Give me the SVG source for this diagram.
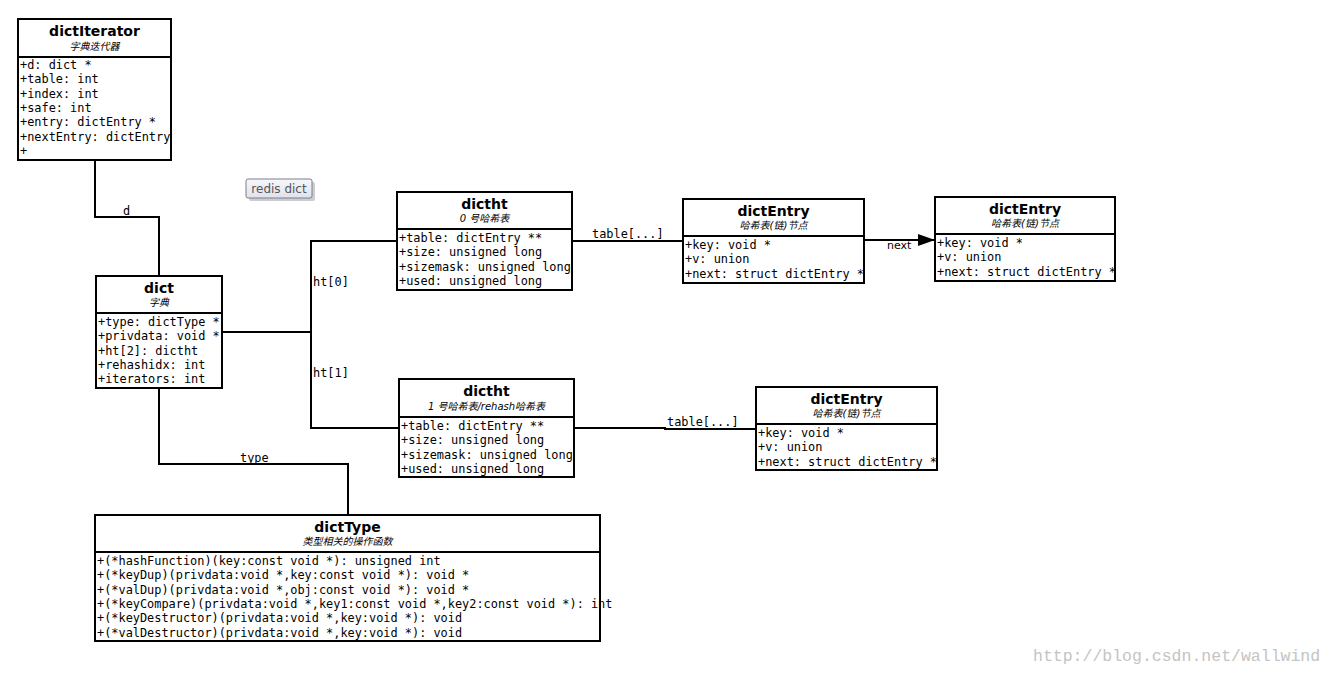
<svg xmlns="http://www.w3.org/2000/svg" width="1335" height="674" viewBox="0 0 1335 674">
<defs>
<style>
.box{fill:#fff;stroke:#000;stroke-width:2}
.div{stroke:#000;stroke-width:2}
.title{font-family:"DejaVu Sans",sans-serif;font-weight:bold;font-size:14px;text-anchor:middle;fill:#000}
.sub{font-family:"DejaVu Sans","Noto Sans CJK SC",sans-serif;font-style:italic;font-size:10px;text-anchor:middle;fill:#000}
.attr{font-family:"DejaVu Sans Mono",monospace;font-size:11.9px;fill:#000}
.lbl{font-family:"DejaVu Sans Mono",monospace;font-size:11.9px;fill:#000}
.conn{fill:none;stroke:#000;stroke-width:2}
</style>
<linearGradient id="ng" x1="0" y1="0" x2="0" y2="1">
<stop offset="0" stop-color="#f7f8fc"/>
<stop offset="1" stop-color="#dfe1ec"/>
</linearGradient>
<marker id="arr" viewBox="0 0 17 12" refX="17" refY="6" markerWidth="17" markerHeight="12" markerUnits="userSpaceOnUse" orient="auto">
<path d="M0,0 L17,6 L0,12 Z" fill="#000"/>
</marker>
</defs>
<rect width="1335" height="674" fill="#fff"/>

<g id="connectors">
<polyline class="conn" points="95,160 95,217 159,217 159,276"/>
<text class="lbl" x="123" y="215">d</text>
<polyline class="conn" points="222,332 311,332"/>
<polyline class="conn" points="397,241 311,241 311,428 399,428"/>
<text class="lbl" x="313" y="286">ht[0]</text>
<text class="lbl" x="313" y="377">ht[1]</text>
<line class="conn" x1="572" y1="241" x2="683" y2="241"/>
<text class="lbl" x="592" y="238">table[...]</text>
<line class="conn" x1="864" y1="240" x2="935" y2="240" marker-end="url(#arr)"/>
<text x="887" y="249" font-family="DejaVu Sans,sans-serif" font-size="11px" fill="#000">next</text>
<polyline class="conn" points="574,428 665,428 665,429 756,429"/>
<text class="lbl" x="667" y="426">table[...]</text>
<polyline class="conn" points="159,388 159,464 348,464 348,515"/>
<text class="lbl" x="240" y="462">type</text>
</g>

<g id="dictIterator">
<rect class="box" x="18" y="19" width="153" height="141"/>
<line class="div" x1="18" y1="57" x2="171" y2="57"/>
<text class="title" x="94.5" y="36">dictIterator</text>
<text class="sub" x="94.5" y="50">字典迭代器</text>
<text class="attr" x="20" y="69">+d: dict *</text>
<text class="attr" x="20" y="83.3">+table: int</text>
<text class="attr" x="20" y="97.6">+index: int</text>
<text class="attr" x="20" y="111.9">+safe: int</text>
<text class="attr" x="20" y="126.2">+entry: dictEntry *</text>
<text class="attr" x="20" y="140.5">+nextEntry: dictEntry</text>
<text class="attr" x="20" y="154.8">+</text>
</g>

<g id="note-redis-dict">
<rect x="249" y="182" width="66" height="19" rx="2" fill="#9a9aa8" opacity="0.5"/>
<rect x="246" y="179" width="66" height="19" rx="2" fill="url(#ng)" stroke="#7d7f8c" stroke-width="1"/>
<text x="279" y="193" text-anchor="middle" font-family="DejaVu Sans,sans-serif" font-size="12px" fill="#555">redis dict</text>
</g>

<g id="dict">
<rect class="box" x="96" y="276" width="126" height="112"/>
<line class="div" x1="96" y1="313" x2="222" y2="313"/>
<text class="title" x="159" y="293">dict</text>
<text class="sub" x="159" y="306">字典</text>
<text class="attr" x="98" y="326">+type: dictType *</text>
<text class="attr" x="98" y="340.3">+privdata: void *</text>
<text class="attr" x="98" y="354.6">+ht[2]: dictht</text>
<text class="attr" x="98" y="368.9">+rehashidx: int</text>
<text class="attr" x="98" y="383.2">+iterators: int</text>
</g>

<g id="dictht0">
<rect class="box" x="397" y="192" width="175" height="98"/>
<line class="div" x1="397" y1="229" x2="572" y2="229"/>
<text class="title" x="484.5" y="209">dictht</text>
<text class="sub" x="484.5" y="222">0 号哈希表</text>
<text class="attr" x="399" y="242">+table: dictEntry **</text>
<text class="attr" x="399" y="256.3">+size: unsigned long</text>
<text class="attr" x="399" y="270.6">+sizemask: unsigned long</text>
<text class="attr" x="399" y="284.9">+used: unsigned long</text>
</g>

<g id="dictht1">
<rect class="box" x="399" y="379" width="175" height="98"/>
<line class="div" x1="399" y1="417" x2="574" y2="417"/>
<text class="title" x="486.5" y="396">dictht</text>
<text class="sub" x="486.5" y="410">1 号哈希表/rehash哈希表</text>
<text class="attr" x="401" y="430">+table: dictEntry **</text>
<text class="attr" x="401" y="444.3">+size: unsigned long</text>
<text class="attr" x="401" y="458.6">+sizemask: unsigned long</text>
<text class="attr" x="401" y="472.9">+used: unsigned long</text>
</g>

<g id="dictEntry1">
<rect class="box" x="683" y="199" width="181" height="84"/>
<line class="div" x1="683" y1="236" x2="864" y2="236"/>
<text class="title" x="773.5" y="216">dictEntry</text>
<text class="sub" x="773.5" y="229">哈希表(链)节点</text>
<text class="attr" x="685" y="249">+key: void *</text>
<text class="attr" x="685" y="263.3">+v: union</text>
<text class="attr" x="685" y="277.6">+next: struct dictEntry *</text>
</g>

<g id="dictEntry2">
<rect class="box" x="935" y="197" width="180" height="84"/>
<line class="div" x1="935" y1="234" x2="1115" y2="234"/>
<text class="title" x="1025" y="214">dictEntry</text>
<text class="sub" x="1025" y="227">哈希表(链)节点</text>
<text class="attr" x="937" y="247">+key: void *</text>
<text class="attr" x="937" y="261.3">+v: union</text>
<text class="attr" x="937" y="275.6">+next: struct dictEntry *</text>
</g>

<g id="dictEntry3">
<rect class="box" x="756" y="387" width="181" height="83"/>
<line class="div" x1="756" y1="424" x2="937" y2="424"/>
<text class="title" x="846.5" y="404">dictEntry</text>
<text class="sub" x="846.5" y="417">哈希表(链)节点</text>
<text class="attr" x="758" y="437">+key: void *</text>
<text class="attr" x="758" y="451.3">+v: union</text>
<text class="attr" x="758" y="465.6">+next: struct dictEntry *</text>
</g>

<g id="dictType">
<rect class="box" x="95" y="515" width="505" height="126"/>
<line class="div" x1="95" y1="552" x2="600" y2="552"/>
<text class="title" x="347.5" y="532">dictType</text>
<text class="sub" x="347.5" y="545">类型相关的操作函数</text>
<text class="attr" x="97" y="565">+(*hashFunction)(key:const void *): unsigned int</text>
<text class="attr" x="97" y="579.3">+(*keyDup)(privdata:void *,key:const void *): void *</text>
<text class="attr" x="97" y="593.6">+(*valDup)(privdata:void *,obj:const void *): void *</text>
<text class="attr" x="97" y="607.9">+(*keyCompare)(privdata:void *,key1:const void *,key2:const void *): int</text>
<text class="attr" x="97" y="622.2">+(*keyDestructor)(privdata:void *,key:void *): void</text>
<text class="attr" x="97" y="636.5">+(*valDestructor)(privdata:void *,key:void *): void</text>
</g>

<text x="1033" y="661" font-family="Liberation Mono,monospace" font-size="16.5px" fill="#c4c4c4">http://blog.csdn.net/wallwind</text>
</svg>
